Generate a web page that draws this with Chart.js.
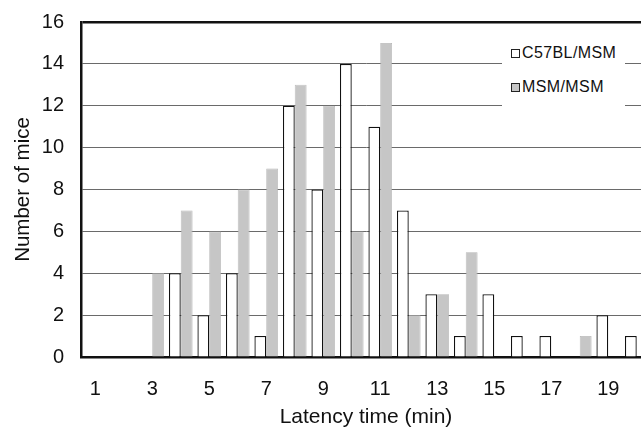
<!DOCTYPE html>
<html>
<head>
<meta charset="utf-8">
<script src="https://cdn.jsdelivr.net/npm/chart.js@4/dist/chart.umd.min.js"></script>
<style>
  html, body { margin: 0; padding: 0; background: #fff; overflow: hidden; width: 641px; height: 428px; }
  #wrap { position: relative; width: 652px; height: 428px; }
  #legend {
    position: absolute; left: 502px; top: 36px; width: 123px; height: 72px;
    background: #fff; font-family: 'Liberation Sans', Arial, sans-serif; font-size: 16px;
    letter-spacing: 0.4px; color: #111;
  }
  .item { position: absolute; left: 9px; display: flex; align-items: center; }
  .box { width: 7px; height: 7px; border: 1px solid #222; margin-right: 2px; }
</style>
</head>
<body>
<div id="wrap">
  <canvas id="chart" width="652" height="428"></canvas>
  <div id="legend">
    <div class="item" style="top: 8px;"><span class="box" style="background:#fff"></span>C57BL/MSM</div>
    <div class="item" style="top: 42px;"><span class="box" style="background:#c6c6c6"></span>MSM/MSM</div>
  </div>
</div>
<script>
const latency = ['1','2','3','4','5','6','7','8','9','10','11','12','13','14','15','16','17','18','19','20'];
const c57blMsm = [0, 0, 0, 4, 2, 4, 1, 12, 8, 14, 11, 7, 3, 1, 3, 1, 1, 0, 2, 1];
const msmMsm = [0, 0, 4, 7, 6, 8, 9, 13, 12, 6, 15, 2, 3, 5, 0, 0, 0, 1, 0, 0];
const yTicks = [0, 2, 4, 6, 8, 10, 12, 14, 16];

const fontFamily = "'Liberation Sans', Arial, sans-serif";

new Chart(document.getElementById('chart'), {
  type: 'bar',
  data: {
    labels: latency,
    datasets: [{
      label: 'C57BL/MSM',
      data: c57blMsm,
      backgroundColor: '#ffffff',
      borderColor: '#111',
      borderWidth: 1.3
    }, {
      label: 'MSM/MSM',
      data: msmMsm,
      backgroundColor: '#c6c6c6',
      borderColor: '#b4b4b4',
      borderWidth: 0.8
    }]
  },
  options: {
    responsive: false,
    animation: false,
    datasets: { bar: { categoryPercentage: 0.83, barPercentage: 1.0 } },
    layout: { padding: { top: 22, right: 1, left: 0, bottom: 0 } },
    plugins: { legend: { display: false }, tooltip: { enabled: false } },
    scales: {
      x: {
        grid: { display: false, drawTicks: false },
        border: { color: '#111', width: 2.5 },
        ticks: {
          autoSkip: false, maxRotation: 0, padding: 20, color: '#111',
          font: { family: fontFamily, size: 20 },
          callback: (v, i) => (i % 2 === 0 ? latency[i] : '')
        },
        title: {
          display: true, text: 'Latency time (min)', color: '#111',
          font: { family: fontFamily, size: 21, lineHeight: 1.0 },
          padding: { top: 0, bottom: 0 }
        },
        afterFit: s => { s.height = 71; s.paddingLeft = 0; s.paddingRight = 0; }
      },
      y: {
        min: 0, max: 16,
        afterBuildTicks: s => { s.ticks = yTicks.map(v => ({ value: v })); },
        grid: {
          drawTicks: false,
          color: c => (c.tick && c.tick.value === 16 ? '#111' : '#6a6a6a'),
          lineWidth: c => (c.tick && c.tick.value === 16 ? 2.5 : 1)
        },
        border: { color: '#111', width: 2.5 },
        ticks: { padding: 17, color: '#111', font: { family: fontFamily, size: 20 } },
        title: {
          display: true, text: 'Number of mice', color: '#111',
          font: { family: fontFamily, size: 20.5, lineHeight: 1.2 },
          padding: { top: 11, bottom: 8 }
        },
        afterFit: s => { s.width = 81; s.paddingTop = 0; s.paddingBottom = 0; }
      }
    }
  }
});
</script>
</body>
</html>
